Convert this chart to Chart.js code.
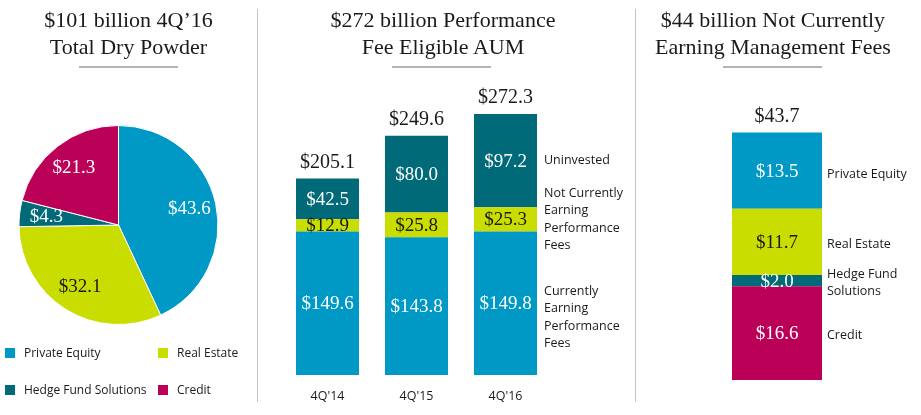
<!DOCTYPE html>
<html lang="en">
  <head>
    <meta charset="UTF-8" />
    <title>Dry Powder and Performance Fee Eligible AUM</title>
    <style>
      body {
        margin: 0;
        background: #fff;
      }
      .page {
        position: relative;
        width: 921px;
        height: 415px;
        overflow: hidden;
        font-family: "Liberation Serif", serif;
        color: #1a1a1a;
      }
      .page canvas {
        position: absolute;
        top: 0;
      }
      .title {
        position: absolute;
        top: 6px;
        text-align: center;
        font-size: 22px;
        line-height: 27px;
        white-space: nowrap;
      }
      .rule {
        position: absolute;
        top: 66px;
        height: 2px;
        background: #b4b4b4;
      }
      .sep {
        position: absolute;
        top: 9px;
        width: 1px;
        height: 393px;
        background: #c4c4c4;
      }
      .legend-item {
        position: absolute;
        font-family: "Open Sans", sans-serif;
        font-size: 12px;
        line-height: 16px;
        white-space: nowrap;
      }
      .legend-item span {
        display: inline-block;
        width: 10px;
        height: 10px;
        margin-right: 9px;
        vertical-align: -1px;
      }
    </style>
  </head>
  <body>
    <div class="page" id="page">
      <canvas id="pieChart" width="257" height="415" style="left:0"></canvas>
      <canvas id="aumChart" width="378" height="430" style="left:258px"></canvas>
      <canvas id="feeChart" width="284" height="415" style="left:637px"></canvas>

      <div class="title" style="left:0;width:257px">$101 billion 4Q’16<br />Total Dry Powder</div>
      <div class="title" style="left:258px;width:370px">$272 billion Performance<br />Fee Eligible AUM</div>
      <div class="title" style="left:637px;width:272px">$44 billion Not Currently<br />Earning Management Fees</div>

      <div class="rule" style="left:79px;width:99px"></div>
      <div class="rule" style="left:392px;width:99px"></div>
      <div class="rule" style="left:723px;width:99px"></div>

      <div class="sep" style="left:257px"></div>
      <div class="sep" style="left:635px"></div>
    </div>

    <script src="https://cdn.jsdelivr.net/npm/chart.js"></script>
    <script>
      // colours
      const BLUE = "#0098c4";
      const LIME = "#c9dd00";
      const TEAL = "#006a78";
      const MAGENTA = "#bb0058";
      const DARK = "#1a1a1a";

      // dry powder pie ($bn)
      const segments = ["Private Equity", "Real Estate", "Hedge Fund Solutions", "Credit"];
      const dryPowder = [43.6, 32.1, 4.3, 21.3];

      // performance fee eligible AUM ($bn)
      const quarters = ["4Q'14", "4Q'15", "4Q'16"];
      const currentlyEarning = [149.6, 143.8, 149.8];
      const notCurrentlyEarning = [12.9, 25.8, 25.3];
      const uninvested = [42.5, 80.0, 97.2];
      const aumTotals = [205.1, 249.6, 272.3];

      // not currently earning management fees ($bn)
      const feeCategory = ["4Q'16"];
      const feePrivateEquity = [13.5];
      const feeRealEstate = [11.7];
      const feeHedgeFund = [2.0];
      const feeCredit = [16.6];
      const feeTotals = [43.7];

      const segColors = [BLUE, LIME, TEAL, MAGENTA];
      const serif = "Liberation Serif";
      const sans = "Open Sans";

      function money(v) {
        return "$" + v.toFixed(1);
      }

      // ---- legend for the pie (html) ----
      const legendPos = [
        [5, 345],
        [158, 345],
        [5, 382],
        [158, 382],
      ];
      const page = document.getElementById("page");
      segments.forEach((name, i) => {
        const d = document.createElement("div");
        d.className = "legend-item";
        d.style.left = legendPos[i][0] + "px";
        d.style.top = legendPos[i][1] + "px";
        d.innerHTML = '<span style="background:' + segColors[i] + '"></span>' + name;
        page.appendChild(d);
      });

      // ---- labels inside pie slices ----
      const pieLabels = {
        id: "pieLabels",
        afterDatasetsDraw(chart) {
          const ctx = chart.ctx;
          const meta = chart.getDatasetMeta(0);
          ctx.save();
          ctx.font = "19px " + serif;
          ctx.textAlign = "center";
          ctx.textBaseline = "middle";
          meta.data.forEach((arc, i) => {
            const a = (arc.startAngle + arc.endAngle) / 2;
            const r = arc.outerRadius * 0.73;
            ctx.fillStyle = segColors[i] === LIME ? DARK : "#fff";
            ctx.fillText(money(dryPowder[i]), arc.x + Math.cos(a) * r, arc.y + Math.sin(a) * r);
          });
          ctx.restore();
        },
      };

      new Chart(document.getElementById("pieChart"), {
        type: "pie",
        data: {
          labels: segments,
          datasets: [
            {
              data: dryPowder,
              backgroundColor: segColors,
              borderColor: "#fff",
              borderWidth: 1,
            },
          ],
        },
        options: {
          responsive: false,
          animation: false,
          devicePixelRatio: 1,
          layout: { padding: { left: 18, right: 38, top: 125, bottom: 90 } },
          plugins: { legend: { display: false }, tooltip: { enabled: false } },
        },
        plugins: [pieLabels],
      });

      // ---- labels for stacked bars: values, totals, series names ----
      const stackLabels = {
        id: "stackLabels",
        afterDatasetsDraw(chart, args, opts) {
          const ctx = chart.ctx;
          const sets = chart.data.datasets;
          ctx.save();
          ctx.textAlign = "center";
          ctx.textBaseline = "middle";
          ctx.font = "19px " + serif;
          sets.forEach((ds, di) => {
            const meta = chart.getDatasetMeta(di);
            meta.data.forEach((bar, i) => {
              ctx.fillStyle = ds.backgroundColor === LIME ? DARK : "#fff";
              ctx.fillText(money(ds.data[i]), bar.x, (bar.y + bar.base) / 2 + 1);
            });
          });
          // totals above the bars
          const topMeta = chart.getDatasetMeta(sets.length - 1);
          ctx.font = "20px " + serif;
          ctx.fillStyle = DARK;
          topMeta.data.forEach((bar, i) => {
            ctx.fillText(money(opts.totals[i]), bar.x, bar.y - 16);
          });
          // series names right of the last bar
          ctx.font = "12.5px " + sans;
          ctx.textAlign = "left";
          sets.forEach((ds, di) => {
            const meta = chart.getDatasetMeta(di);
            const bar = meta.data[meta.data.length - 1];
            const lines = ds.lines;
            const cy = (bar.y + bar.base) / 2 + (opts.dy[di] || 0);
            const lh = opts.lineHeight;
            lines.forEach((t, k) => {
              ctx.fillText(t, bar.x + bar.width / 2 + opts.gap, cy + (k - (lines.length - 1) / 2) * lh);
            });
          });
          ctx.restore();
        },
      };

      new Chart(document.getElementById("aumChart"), {
        type: "bar",
        data: {
          labels: quarters,
          datasets: [
            {
              label: "Currently Earning Performance Fees",
              lines: ["Currently", "Earning", "Performance", "Fees"],
              data: currentlyEarning,
              backgroundColor: BLUE,
            },
            {
              label: "Not Currently Earning Performance Fees",
              lines: ["Not Currently", "Earning", "Performance", "Fees"],
              data: notCurrentlyEarning,
              backgroundColor: LIME,
            },
            {
              label: "Uninvested",
              lines: ["Uninvested"],
              data: uninvested,
              backgroundColor: TEAL,
            },
          ],
        },
        options: {
          responsive: false,
          animation: false,
          devicePixelRatio: 1,
          datasets: { bar: { categoryPercentage: 1, barPercentage: 0.708 } },
          layout: { padding: { left: 25, right: 86, top: 80, bottom: 12 } },
          scales: {
            x: {
              stacked: true,
              grid: { display: false, drawTicks: false },
              border: { display: false },
              ticks: { padding: 14, color: DARK, font: { family: sans, size: 12.5 } },
            },
            y: { stacked: true, display: false, min: 0, max: 307.8 },
          },
          plugins: {
            legend: { display: false },
            tooltip: { enabled: false },
            stackLabels: { totals: aumTotals, dy: [14, 0, 0], lineHeight: 17.5, gap: 7 },
          },
        },
        plugins: [stackLabels],
      });

      new Chart(document.getElementById("feeChart"), {
        type: "bar",
        data: {
          labels: feeCategory,
          datasets: [
            { label: "Credit", lines: ["Credit"], data: feeCredit, backgroundColor: MAGENTA },
            {
              label: "Hedge Fund Solutions",
              lines: ["Hedge Fund", "Solutions"],
              data: feeHedgeFund,
              backgroundColor: TEAL,
            },
            { label: "Real Estate", lines: ["Real Estate"], data: feeRealEstate, backgroundColor: LIME },
            { label: "Private Equity", lines: ["Private Equity"], data: feePrivateEquity, backgroundColor: BLUE },
          ],
        },
        options: {
          responsive: false,
          animation: false,
          devicePixelRatio: 1,
          datasets: { bar: { categoryPercentage: 1, barPercentage: 0.75 } },
          layout: { padding: { left: 80, right: 84, top: 80, bottom: 35 } },
          scales: {
            x: { stacked: true, display: false },
            y: { stacked: true, display: false, min: 0, max: 53.1 },
          },
          plugins: {
            legend: { display: false },
            tooltip: { enabled: false },
            stackLabels: { totals: feeTotals, dy: [2, 2, 3, 4], lineHeight: 17, gap: 5 },
          },
        },
        plugins: [stackLabels],
      });
    </script>
  </body>
</html>
